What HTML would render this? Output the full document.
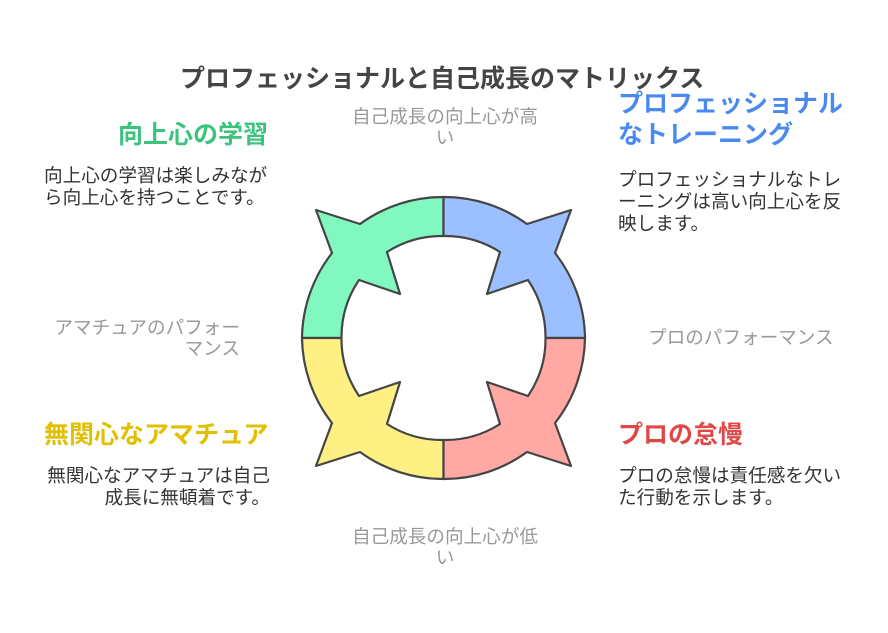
<!DOCTYPE html>
<html><head><meta charset="utf-8"><style>
body{margin:0;width:888px;height:633px;background:#fff;position:relative;overflow:hidden;font-family:"Liberation Sans","Noto Sans CJK JP",sans-serif}
.a{position:absolute;white-space:nowrap}
.t{font-weight:bold;font-size:25px;color:#444}
.h{font-weight:bold;font-size:25px;line-height:31px}
.d{font-size:18.6px;color:#333;line-height:22px}
.g{font-size:18.6px;color:#999;line-height:21px}
</style></head><body>
<div class="a t" style="left:180px;top:59px">プロフェッショナルと自己成長のマトリックス</div>
<div class="a g" style="left:340px;top:106px;width:210px;text-align:center">自己成長の向上心が高<br>い</div>
<div class="a g" style="left:340px;top:526px;width:210px;text-align:center">自己成長の向上心が低<br>い</div>
<div class="a g" style="left:40px;top:317px;width:200px;text-align:right">アマチュアのパフォー<br>マンス</div>
<div class="a g" style="left:648px;top:327px">プロのパフォーマンス</div>
<div class="a h" style="left:118px;top:120px;color:#3cc47f">向上心の学習</div>
<div class="a d" style="left:44px;top:165px">向上心の学習は楽しみなが<br>ら向上心を持つことです。</div>
<div class="a h" style="left:618px;top:89px;color:#4a8af0">プロフェッショナル<br>なトレーニング</div>
<div class="a d" style="left:618px;top:169px">プロフェッショナルなトレ<br>ーニングは高い向上心を反<br>映します。</div>
<div class="a h" style="left:44px;top:420px;color:#e0c000">無関心なアマチュア</div>
<div class="a d" style="left:30px;top:465px;width:240px;text-align:right">無関心なアマチュアは自己<br>成長に無頓着です。</div>
<div class="a h" style="left:618px;top:420px;color:#e04848">プロの怠慢</div>
<div class="a d" style="left:618px;top:465px">プロの怠慢は責任感を欠い<br>た行動を示します。</div>
<svg class="a" style="left:0;top:0" width="888" height="633">
<g stroke="#454545" stroke-width="2.2" stroke-linejoin="round">
<path fill="#80f8c0" d="M302,338 A141,141 0 0 1 332,253 L316,210 L360,224 A141,141 0 0 1 443.5,197 L443.5,236 A102,102 0 0 0 387,252 L400,294 L359,280 A102,102 0 0 0 341.5,338 Z"/>
<path fill="#9cc0ff" transform="translate(887,0) scale(-1,1)" d="M302,338 A141,141 0 0 1 332,253 L316,210 L360,224 A141,141 0 0 1 443.5,197 L443.5,236 A102,102 0 0 0 387,252 L400,294 L359,280 A102,102 0 0 0 341.5,338 Z"/>
<path fill="#fff084" transform="translate(0,676) scale(1,-1)" d="M302,338 A141,141 0 0 1 332,253 L316,210 L360,224 A141,141 0 0 1 443.5,197 L443.5,236 A102,102 0 0 0 387,252 L400,294 L359,280 A102,102 0 0 0 341.5,338 Z"/>
<path fill="#ffa8a4" transform="translate(887,676) scale(-1,-1)" d="M302,338 A141,141 0 0 1 332,253 L316,210 L360,224 A141,141 0 0 1 443.5,197 L443.5,236 A102,102 0 0 0 387,252 L400,294 L359,280 A102,102 0 0 0 341.5,338 Z"/>
</g></svg>
</body></html>
